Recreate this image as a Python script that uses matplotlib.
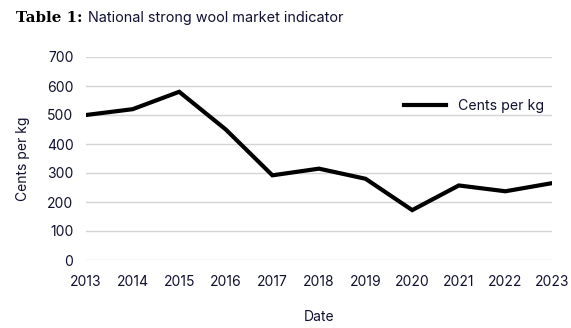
import matplotlib.pyplot as plt

years = [2013, 2014, 2015, 2016, 2017, 2018, 2019, 2020, 2021, 2022, 2023]
cents_per_kg = [500, 520, 580, 450, 292, 315, 280, 172, 257, 237, 265]

text_col = '#101030'
plt.rcParams['font.family'] = ['Inter', 'DejaVu Sans']

fig = plt.figure(figsize=(5.71, 3.28), dpi=100)
ax = fig.add_axes([86/571, 68/328, 466/571, 203/328])

ax.plot(years, cents_per_kg, color='black', linewidth=3, label='Cents per kg',
        solid_joinstyle='miter')

ax.set_xlim(2013, 2023)
ax.set_ylim(0, 700)
ax.set_xticks(years)
ax.set_yticks(range(0, 701, 100))
ax.grid(axis='y', color='#d4d4d4', linewidth=1)
ax.set_axisbelow(True)
for s in ax.spines.values():
    s.set_visible(False)
ax.tick_params(length=0, labelsize=10, labelcolor=text_col)
ax.tick_params(axis='x', pad=11)
ax.tick_params(axis='y', pad=9)

ax.set_xlabel('Date', fontsize=10, color=text_col, labelpad=15)
ax.set_ylabel('Cents per kg', fontsize=10, color=text_col, labelpad=12)

ax.legend(loc='upper right', bbox_to_anchor=(1.01, 0.855), frameon=False,
          fontsize=10.2, handlelength=3, labelcolor=text_col)

# Title: bold serif prefix followed by sans text
fig.text(16/571, 1 - 18/328, 'Table 1:', fontsize=10.8, fontweight='bold',
         family='DejaVu Serif', color='black', va='center')
fig.text(88/571, 1 - 18/328, 'National strong wool market indicator', fontsize=10.4,
         color=text_col, va='center')

fig.savefig('out.png', dpi=100)
